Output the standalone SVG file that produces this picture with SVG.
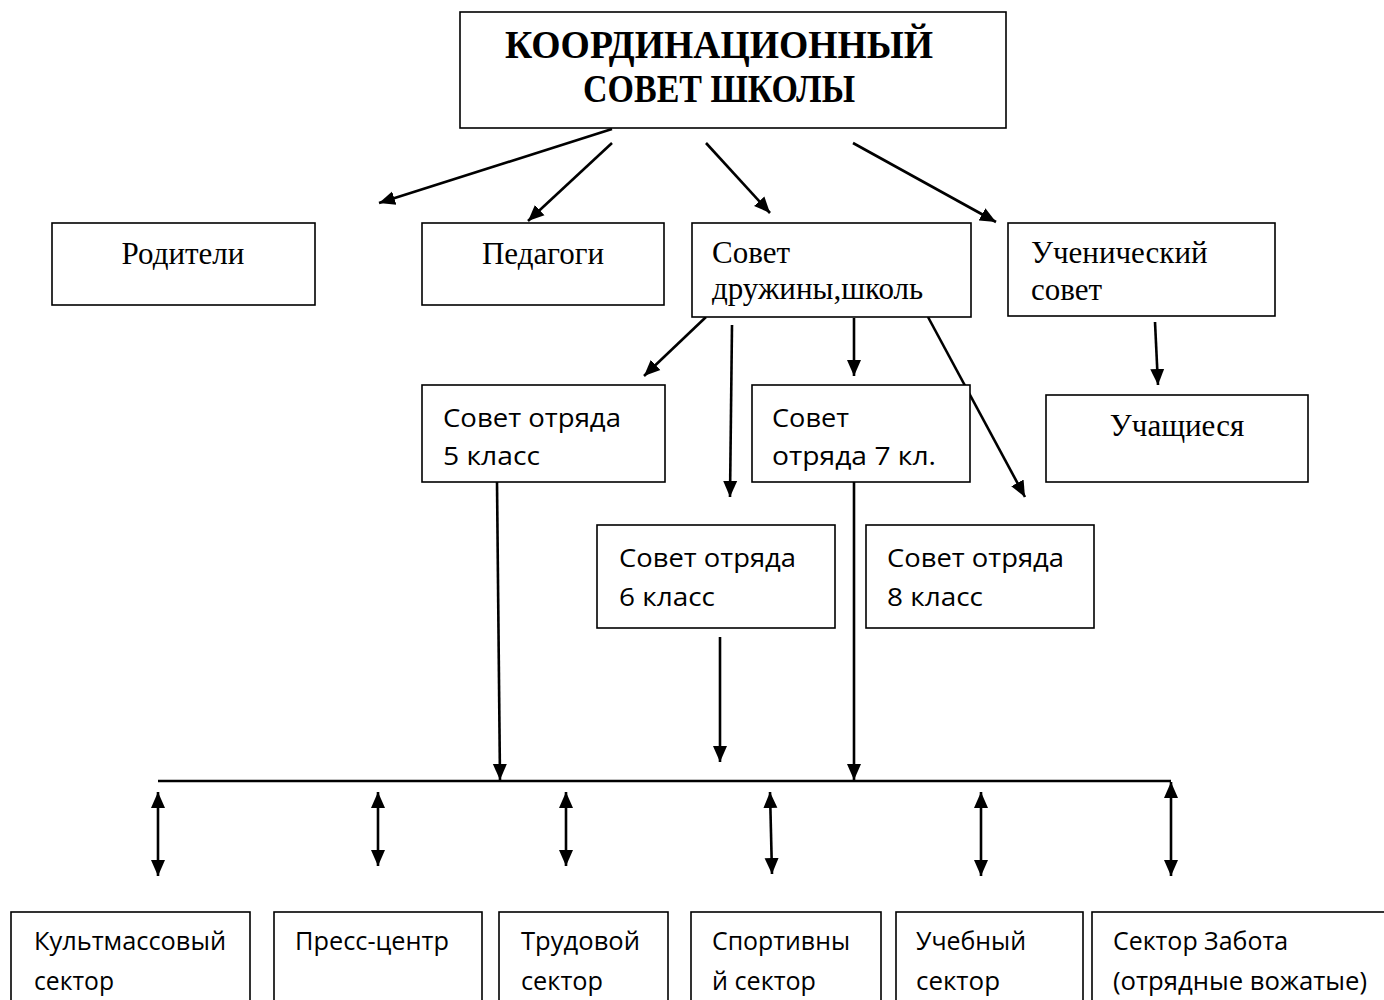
<svg xmlns="http://www.w3.org/2000/svg" width="1384" height="1000" viewBox="0 0 1384 1000">
<style>
.box{fill:#fff;stroke:#000;stroke-width:1.6}
.tr{font-family:"Liberation Serif","Times New Roman",serif;font-size:31px;fill:#000}
.ttl{font-family:"Liberation Serif","Times New Roman",serif;font-size:39px;font-weight:bold;fill:#000}
.ca{font-family:"Open Sans","Noto Sans",sans-serif;font-size:26px;fill:#000}
.ln{stroke:#000;stroke-width:2.6;fill:none}
.ar{marker-end:url(#ah)}
.da{marker-start:url(#ah);marker-end:url(#ah)}
</style>
<defs>
<marker id="ah" markerUnits="userSpaceOnUse" markerWidth="18" markerHeight="16" viewBox="0 0 18 16" refX="16" refY="8" orient="auto-start-reverse">
<path d="M0,1 L16,8 L0,15 Z" fill="#000"/>
</marker>
</defs>
<rect width="1384" height="1000" fill="#fff"/>

<g id="connectors">
<line class="ln ar" x1="612" y1="129" x2="379" y2="203"/>
<line class="ln ar" x1="612" y1="143" x2="528" y2="221"/>
<line class="ln ar" x1="706" y1="143" x2="770" y2="213"/>
<line class="ln ar" x1="853" y1="143" x2="996" y2="222"/>
<line class="ln ar" x1="706" y1="317" x2="644" y2="376"/>
<line class="ln ar" x1="732" y1="325" x2="730" y2="497"/>
<line class="ln ar" x1="854" y1="318" x2="854" y2="376"/>
<line class="ln ar" x1="928" y1="317" x2="1025" y2="497"/>
<line class="ln ar" x1="1155" y1="322" x2="1158" y2="385"/>
<line class="ln ar" x1="497" y1="482" x2="500" y2="780"/>
<line class="ln ar" x1="854" y1="482" x2="854" y2="780"/>
<line class="ln ar" x1="720" y1="637" x2="720" y2="762"/>
<line class="ln" x1="158" y1="781" x2="1171" y2="781"/>
<line class="ln da" x1="158" y1="792" x2="158" y2="876"/>
<line class="ln da" x1="378" y1="792" x2="378" y2="866"/>
<line class="ln da" x1="566" y1="792" x2="566" y2="866"/>
<line class="ln da" x1="770" y1="792" x2="772" y2="874"/>
<line class="ln da" x1="981" y1="792" x2="981" y2="876"/>
<line class="ln da" x1="1171" y1="782" x2="1171" y2="876"/>
</g>

<g id="n-coord"><rect class="box" x="460" y="12" width="546" height="116"/>
<text class="ttl" x="505" y="58" textLength="428" lengthAdjust="spacingAndGlyphs">КООРДИНАЦИОННЫЙ</text>
<text class="ttl" x="583" y="102" textLength="272" lengthAdjust="spacingAndGlyphs">СОВЕТ ШКОЛЫ</text></g>

<g id="n-parents"><rect class="box" x="52" y="223" width="263" height="82"/>
<text class="tr" x="183" y="264" text-anchor="middle">Родители</text></g>

<g id="n-teachers"><rect class="box" x="422" y="223" width="242" height="82"/>
<text class="tr" x="543" y="264" text-anchor="middle">Педагоги</text></g>

<g id="n-druzhina"><rect class="box" x="692" y="223" width="279" height="94"/>
<text class="tr" x="712" y="263">Совет</text>
<text class="tr" x="712" y="299">дружины,школь</text></g>

<g id="n-student-council"><rect class="box" x="1008" y="223" width="267" height="93"/>
<text class="tr" x="1031" y="263">Ученический</text>
<text class="tr" x="1031" y="300">совет</text></g>

<g id="n-students"><rect class="box" x="1046" y="395" width="262" height="87"/>
<text class="tr" x="1177" y="436" text-anchor="middle">Учащиеся</text></g>

<g id="n-otr5"><rect class="box" x="422" y="385" width="243" height="97"/>
<text class="ca" x="443" y="427" textLength="178" lengthAdjust="spacingAndGlyphs">Совет отряда</text>
<text class="ca" x="443" y="465" textLength="97" lengthAdjust="spacingAndGlyphs">5 класс</text></g>

<g id="n-otr7"><rect class="box" x="752" y="385" width="218" height="97"/>
<text class="ca" x="772" y="427" textLength="77" lengthAdjust="spacingAndGlyphs">Совет</text>
<text class="ca" x="772" y="465" textLength="164" lengthAdjust="spacingAndGlyphs">отряда 7 кл.</text></g>

<g id="n-otr6"><rect class="box" x="597" y="525" width="238" height="103"/>
<text class="ca" x="619" y="567" textLength="177" lengthAdjust="spacingAndGlyphs">Совет отряда</text>
<text class="ca" x="619" y="606" textLength="96" lengthAdjust="spacingAndGlyphs">6 класс</text></g>

<g id="n-otr8"><rect class="box" x="866" y="525" width="228" height="103"/>
<text class="ca" x="887" y="567" textLength="177" lengthAdjust="spacingAndGlyphs">Совет отряда</text>
<text class="ca" x="887" y="606" textLength="96" lengthAdjust="spacingAndGlyphs">8 класс</text></g>

<g id="n-kult"><rect class="box" x="11" y="912" width="239" height="100"/>
<text class="ca" x="34" y="950" textLength="192" lengthAdjust="spacingAndGlyphs">Культмассовый</text>
<text class="ca" x="34" y="990" textLength="80" lengthAdjust="spacingAndGlyphs">сектор</text></g>

<g id="n-press"><rect class="box" x="274" y="912" width="208" height="100"/>
<text class="ca" x="295" y="950" textLength="154" lengthAdjust="spacingAndGlyphs">Пресс-центр</text></g>

<g id="n-trud"><rect class="box" x="499" y="912" width="169" height="100"/>
<text class="ca" x="521" y="950" textLength="119" lengthAdjust="spacingAndGlyphs">Трудовой</text>
<text class="ca" x="521" y="990" textLength="82" lengthAdjust="spacingAndGlyphs">сектор</text></g>

<g id="n-sport"><rect class="box" x="691" y="912" width="190" height="100"/>
<text class="ca" x="712" y="950" textLength="138" lengthAdjust="spacingAndGlyphs">Спортивны</text>
<text class="ca" x="712" y="990" textLength="104" lengthAdjust="spacingAndGlyphs">й сектор</text></g>

<g id="n-ucheb"><rect class="box" x="896" y="912" width="187" height="100"/>
<text class="ca" x="916" y="950" textLength="110" lengthAdjust="spacingAndGlyphs">Учебный</text>
<text class="ca" x="916" y="990" textLength="84" lengthAdjust="spacingAndGlyphs">сектор</text></g>

<g id="n-zabota"><rect class="box" x="1092" y="912" width="300" height="100"/>
<text class="ca" x="1113" y="950" textLength="175" lengthAdjust="spacingAndGlyphs">Сектор Забота</text>
<text class="ca" x="1113" y="990" textLength="254" lengthAdjust="spacingAndGlyphs">(отрядные вожатые)</text></g>
</svg>
